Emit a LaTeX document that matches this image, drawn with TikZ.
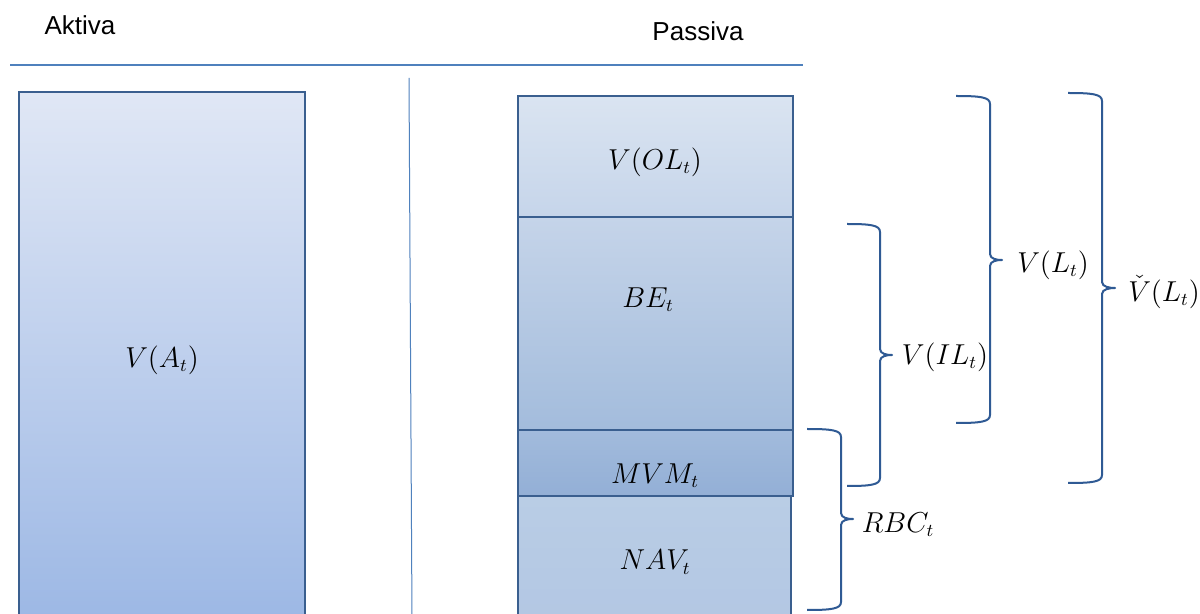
\documentclass[tikz,border=0pt]{standalone}
\usepackage{fontspec}
\newfontfamily\arialfont{Liberation Sans}
\definecolor{rule}{HTML}{4F81BD}
\definecolor{edge}{HTML}{3A5F8F}
\definecolor{bracec}{HTML}{2F5A94}
\tikzset{
  boxstyle/.style={draw=edge, line width=1pt},
  headtext/.style={font=\arialfont\fontsize{13}{15}\selectfont, inner sep=0pt},
  mathlabel/.style={font=\fontsize{13.5}{16}\selectfont, inner sep=0pt},
  bracestyle/.style={draw=bracec, line width=1pt, line join=round}
}
\newcommand\mybrace[6]{% x0, ytop, xv, ytip, xtip, ybot
  \draw[bracestyle] (#1,#2) .. controls (#3-10,#2) and (#3,#2+1) .. (#3,#2+8)
    -- (#3,#4-6) .. controls (#3,#4-1) and (#5-5,#4) .. (#5,#4)
    .. controls (#5-5,#4) and (#3,#4+1) .. (#3,#4+6)
    -- (#3,#6-8) .. controls (#3,#6-1) and (#3-10,#6) .. (#1,#6);}
\begin{document}
\begin{tikzpicture}[x=0.5pt,y=-0.5pt]
\clip (0,0) rectangle (1200,614);
\fill[white] (0,0) rectangle (1200,614);
% headers
\node[headtext] (aktiva) at (80,25) {Aktiva};
\node[headtext] (passiva) at (698,31) {Passiva};
\draw[rule, line width=0.75pt] (10,65) -- (803,65);
\draw[rule, line width=0.5pt] (409,78) -- (412,620);
% left box
\path[boxstyle, top color={rgb,255:red,224;green,231;blue,245}, bottom color={rgb,255:red,154;green,182;blue,228}] (19,92) rectangle (305,640);
\node[mathlabel] (va) at (162,360) {$V(A_t)$};
% right boxes
\path[boxstyle, top color={rgb,255:red,218;green,228;blue,241}, bottom color={rgb,255:red,198;green,213;blue,234}] (518,96) rectangle (793,217);
\path[boxstyle, top color={rgb,255:red,197;green,212;blue,233}, bottom color={rgb,255:red,163;green,188;blue,220}] (518,217) rectangle (793,430);
\path[boxstyle, top color={rgb,255:red,162;green,187;blue,220}, bottom color={rgb,255:red,147;green,175;blue,214}] (518,430) rectangle (793,496);
\path[boxstyle, top color={rgb,255:red,185;green,205;blue,229}, bottom color={rgb,255:red,178;green,198;blue,227}] (518,496) rectangle (791,640);
\node[mathlabel] (vol) at (655,162) {$V(OL_t)$};
\node[mathlabel] (be) at (648,300) {$BE_t$};
\node[mathlabel] (mvm) at (655,476) {$MVM_t$};
\node[mathlabel] (nav) at (655,562) {$NAV_t$};
% braces
\mybrace{807}{429}{841}{519}{853}{610}
\mybrace{847}{224}{880}{355}{892}{486}
\mybrace{956}{96}{990}{260}{1002}{423}
\mybrace{1068}{93}{1102}{288}{1115}{483}
\node[mathlabel] (rbc) at (898,525) {$RBC_t$};
\node[mathlabel] (vil) at (945,357) {$V(IL_t)$};
\node[mathlabel] (vl) at (1053,265) {$V(L_t)$};
\node[mathlabel] (vcl) at (1164,292) {$\check{V}(L_t)$};
\end{tikzpicture}
\end{document}
